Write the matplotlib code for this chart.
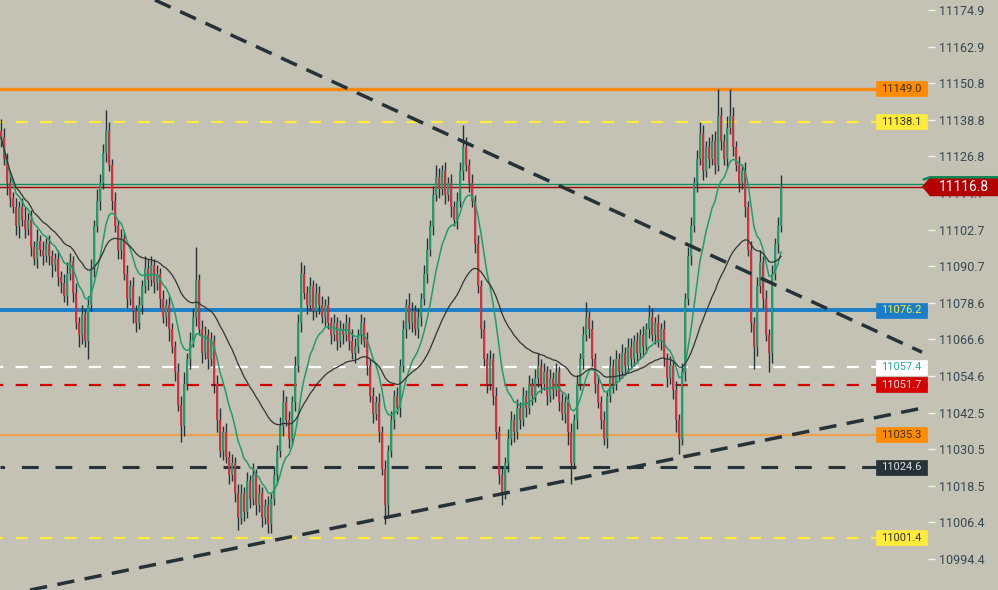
import numpy as np
import pandas as pd
import matplotlib
matplotlib.use("Agg")
import matplotlib.pyplot as plt
from matplotlib.patches import Rectangle, Polygon
from matplotlib.transforms import blended_transform_factory

plt.rcParams['font.family'] = ['Roboto', 'DejaVu Sans']

# closes (one candle every 3 px)
closes = [
    11133, 11126, 11118, 11113, 11110, 11104, 11110, 11106, 11103, 11106,
    11097, 11093, 11099, 11096, 11094, 11098, 11094, 11091, 11093, 11087,
    11085, 11081, 11088, 11092, 11082, 11072, 11068, 11075, 11066, 11078,
    11090, 11104, 11112, 11118, 11128, 11135, 11124, 11112, 11104, 11096,
    11100, 11088, 11080, 11084, 11076, 11072, 11078, 11084, 11090, 11086,
    11091, 11085, 11088, 11080, 11074, 11078, 11070, 11064, 11056, 11045,
    11038, 11052, 11060, 11066, 11074, 11086, 11070, 11062, 11068, 11060,
    11066, 11052, 11040, 11030, 11036, 11028, 11022, 11026, 11016, 11008,
    11016, 11010, 11020, 11014, 11022, 11012, 11016, 11008, 11012, 11006,
    11014, 11022, 11030, 11038, 11046, 11040, 11034, 11046, 11058, 11072,
    11088, 11082, 11078, 11084, 11076, 11082, 11078, 11074, 11078, 11072,
    11068, 11072, 11066, 11070, 11068, 11072, 11066, 11062, 11064, 11068,
    11072, 11066, 11058, 11048, 11042, 11046, 11036, 11024, 11012, 11030,
    11040, 11048, 11044, 11058, 11070, 11078, 11072, 11076, 11070, 11074,
    11080, 11088, 11096, 11104, 11114, 11120, 11116, 11122, 11114, 11118,
    11110, 11106, 11112, 11122, 11130, 11124, 11118, 11112, 11098, 11084,
    11070, 11060, 11052, 11060, 11048, 11036, 11022, 11016, 11026, 11034,
    11040, 11036, 11044, 11040, 11048, 11044, 11052, 11048, 11054, 11058,
    11052, 11056, 11048, 11054, 11050, 11056, 11046, 11042, 11046, 11036,
    11026, 11040, 11052, 11060, 11068, 11074, 11070, 11060, 11052, 11046,
    11040, 11034, 11048, 11058, 11052, 11060, 11056, 11062, 11058, 11064,
    11060, 11066, 11062, 11068, 11064, 11070, 11074, 11068, 11072, 11066,
    11070, 11060, 11054, 11058, 11050, 11040, 11034, 11056, 11080, 11094,
    11104, 11118, 11126, 11134, 11122, 11130, 11126, 11132, 11124, 11140,
    11132, 11126, 11136, 11140, 11130, 11124, 11118, 11122, 11110, 11096,
    11072, 11064, 11084, 11092, 11080, 11068, 11062, 11088, 11098, 11104,
    11116.8,
]
# wick length above / below the body
hi_ext = [
    4, 3, 2, 3, 2, 3, 2, 3, 4, 2,  3, 2, 4, 2, 3, 2, 3, 2, 2, 3,
    2, 3, 4, 3, 2, 3, 2, 3, 2, 3,  3, 2, 4, 3, 3, 7, 3, 2, 3, 2,
    3, 2, 3, 2, 3, 2, 3, 2, 4, 3,  3, 2, 3, 2, 3, 2, 3, 2, 2, 3,
    3, 4, 2, 3, 3, 11, 2, 3, 3, 2, 3, 2, 3, 4, 2, 3, 2, 3, 2, 3,
    3, 2, 3, 2, 4, 2, 3, 2, 2, 3,  2, 3, 2, 3, 4, 2, 3, 2, 3, 3,
    4, 3, 2, 3, 2, 3, 2, 3, 2, 3,  2, 3, 2, 3, 2, 3, 2, 4, 3, 2,
    3, 2, 3, 2, 3, 2, 3, 2, 3, 2,  3, 2, 3, 2, 3, 2, 4, 3, 2, 3,
    2, 3, 4, 2, 3, 4, 3, 2, 3, 2,  3, 2, 3, 3, 7, 3, 2, 3, 2, 3,
    2, 3, 2, 3, 2, 3, 2, 3, 2, 3,  3, 2, 3, 2, 3, 2, 3, 2, 3, 4,
    2, 3, 2, 3, 2, 3, 2, 3, 2, 3,  3, 2, 3, 2, 3, 5, 2, 3, 2, 3,
    2, 3, 2, 3, 2, 3, 2, 3, 2, 3,  3, 2, 3, 2, 3, 2, 4, 3, 2, 3,
    2, 3, 2, 3, 2, 3, 2, 3, 2, 3,  3, 2, 3, 4, 3, 2, 3, 2, 3, 9,
    3, 2, 4, 9, 3, 2, 3, 2, 3, 2,  3, 2, 3, 4, 2, 3, 2, 3, 2, 3,
    4,
]
lo_ext = [
    3, 2, 4, 3, 2, 3, 4, 2, 3, 2,  3, 2, 3, 2, 3, 2, 3, 4, 2, 3,
    3, 2, 3, 2, 3, 2, 4, 3, 2, 6,  2, 3, 2, 3, 2, 3, 2, 3, 2, 3,
    3, 2, 3, 2, 4, 3, 2, 3, 2, 3,  2, 3, 2, 3, 2, 3, 4, 2, 3, 2,
    5, 3, 2, 3, 2, 3, 2, 3, 2, 3,  2, 3, 4, 2, 3, 2, 3, 2, 3, 4,
    2, 3, 2, 3, 2, 3, 2, 3, 2, 3,  3, 2, 3, 2, 3, 2, 3, 2, 3, 2,
    3, 2, 3, 2, 3, 2, 3, 2, 3, 2,  3, 2, 3, 2, 3, 2, 3, 2, 3, 2,
    3, 2, 3, 2, 3, 2, 3, 2, 6, 3,  2, 3, 2, 3, 2, 3, 2, 3, 2, 3,
    3, 2, 3, 2, 3, 2, 3, 2, 3, 2,  3, 2, 3, 2, 3, 2, 3, 2, 3, 2,
    3, 2, 3, 2, 3, 2, 3, 4, 2, 3,  2, 3, 2, 3, 2, 3, 2, 3, 2, 3,
    3, 2, 3, 2, 3, 2, 3, 2, 3, 4,  7, 2, 3, 2, 3, 2, 3, 2, 3, 2,
    3, 2, 3, 2, 3, 2, 3, 2, 3, 2,  3, 2, 3, 2, 3, 2, 3, 2, 3, 2,
    3, 2, 3, 2, 3, 4, 5, 2, 3, 2,  3, 2, 3, 2, 3, 2, 3, 2, 3, 2,
    3, 2, 3, 2, 3, 2, 3, 2, 3, 2,  3, 7, 3, 2, 3, 2, 6, 3, 2, 3,
    2,
]

# horizontal levels and their right-edge labels
levels = [11149.0, 11138.1, 11076.2, 11057.4, 11051.7, 11035.3, 11024.6, 11001.4]
level_colors = ['#f7890f', '#ffeb3b', '#1a7fc8', '#ffffff', '#d50000', '#e8a24c', '#263238', '#ffeb3b']
level_styles = ['solid', 'dash', 'solid', 'dash', 'dash', 'solid', 'dash', 'dash']
level_widths = [2.4, 1.6, 2.8, 1.6, 1.6, 1.6, 2.2, 1.6]
label_bg = ['#ff8c00', '#ffeb3b', '#1a7fc8', '#ffffff', '#d50000', '#ff8c00', '#263238', '#ffeb3b']
label_fg = ['#3a2a10', '#333333', '#ffeb3b', '#26a69a', '#ffdede', '#3a2a10', '#e0e0e0', '#333333']

last_price = 11116.8
ask_price = 11117.6

# trendlines (x in candle index, y in price)
down_x = [51.3, 307.0]
down_y = [11178.2, 11062.4]
up_x = [9.7, 307.0]
up_y = [10984.2, 11044.0]

yticks = [10994.4, 11006.4, 11018.5, 11030.5, 11042.5, 11054.6, 11066.6, 11078.6,
          11090.7, 11102.7, 11114.7, 11126.8, 11138.8, 11150.8, 11162.9, 11174.9]

bg = '#c3c2b4'
fig = plt.figure(figsize=(9.98, 5.9), dpi=100, facecolor=bg)
ax = fig.add_axes([0, 0, 928 / 998, 1])
ax.set_facecolor(bg)

c = np.array(closes, dtype=float)
o = np.r_[c[0] + 2, c[:-1]]
hi = np.maximum(o, c) + np.array(hi_ext)
lo = np.minimum(o, c) - np.array(lo_ext)
x = np.arange(len(c))
up = c >= o

ax.vlines(x, lo, hi, color='#263238', lw=1.0, zorder=3)
ax.bar(x[up], (c - o)[up], bottom=o[up], width=0.62, color='#1f9d6c', zorder=4, linewidth=0)
ax.bar(x[~up], (c - o)[~up], bottom=o[~up], width=0.62, color='#d62f42', zorder=4, linewidth=0)

s = pd.Series(c)
ax.plot(x, s.ewm(span=12).mean(), color='#1f9d6c', lw=1.1, zorder=5)
ax.plot(x, s.ewm(span=42).mean(), color='#333333', lw=0.9, zorder=5)

for p, col, st, lw in zip(levels, level_colors, level_styles, level_widths):
    if st == 'solid':
        ax.axhline(p, color=col, lw=lw, zorder=2)
    else:
        ax.axhline(p, color=col, lw=lw, zorder=2, linestyle=(4, (5.5, 5.5)))

ax.axhline(ask_price, color='#0b8a5a', lw=1.0, zorder=2)
ax.axhline(last_price, color='#a00000', lw=1.0, zorder=2)

ax.plot(down_x, down_y, color='#263238', lw=2.5, dashes=(5, 3), zorder=6, solid_capstyle='butt')
ax.plot(up_x, up_y, color='#263238', lw=2.5, dashes=(5, 3), zorder=6, solid_capstyle='butt')

ax.set_xlim(-1 / 3, 309)
ax.set_ylim(10984.2, 11178.2)

# price labels on the right edge
tr = blended_transform_factory(ax.transAxes, ax.transData)
px = 0.3288  # price per pixel
for p, b, f in zip(levels, label_bg, label_fg):
    ax.add_patch(Rectangle((876 / 928, p - 7.5 * px), 51 / 928, 15 * px, transform=tr,
                           facecolor=b, edgecolor=b, lw=0.5, zorder=8, clip_on=False))
    ax.text(901.5 / 928, p, f'{p:.1f}', transform=tr, ha='center', va='center',
            fontsize=8, color=f, zorder=9, clip_on=False)

# last price tag, covering the 11114.7 tick label as in the original
ftr = blended_transform_factory(fig.transFigure, ax.transData)
h = 9.5 * px
tag = Polygon([(922 / 998, last_price), (930 / 998, last_price + h), (998 / 998, last_price + h),
               (998 / 998, last_price - h), (930 / 998, last_price - h)],
              closed=True, transform=ftr, facecolor='#b30000', edgecolor='none',
              zorder=10, clip_on=False)
fig.add_artist(tag)
fig.add_artist(plt.Line2D([924 / 998, 930 / 998, 1.0], [last_price + h - 2.2 * px, last_price + h, last_price + h],
                          transform=ftr, color='#0b8a5a', lw=1.8, zorder=11))
fig.text(964 / 998, last_price, f'{last_price:.1f}', transform=ftr, ha='center', va='center',
         fontsize=10, color='white', zorder=12)

ax.yaxis.tick_right()
ax.set_yticks(yticks)
ax.set_yticklabels([f'{t:.1f}' for t in yticks])
ax.tick_params(axis='y', length=5, width=1, color='#f2f2f2', labelcolor='#37474f',
               labelsize=9, pad=3)
ax.set_xticks([])
for sp in ax.spines.values():
    sp.set_visible(False)

fig.savefig('out.png', dpi=100, facecolor=bg)
